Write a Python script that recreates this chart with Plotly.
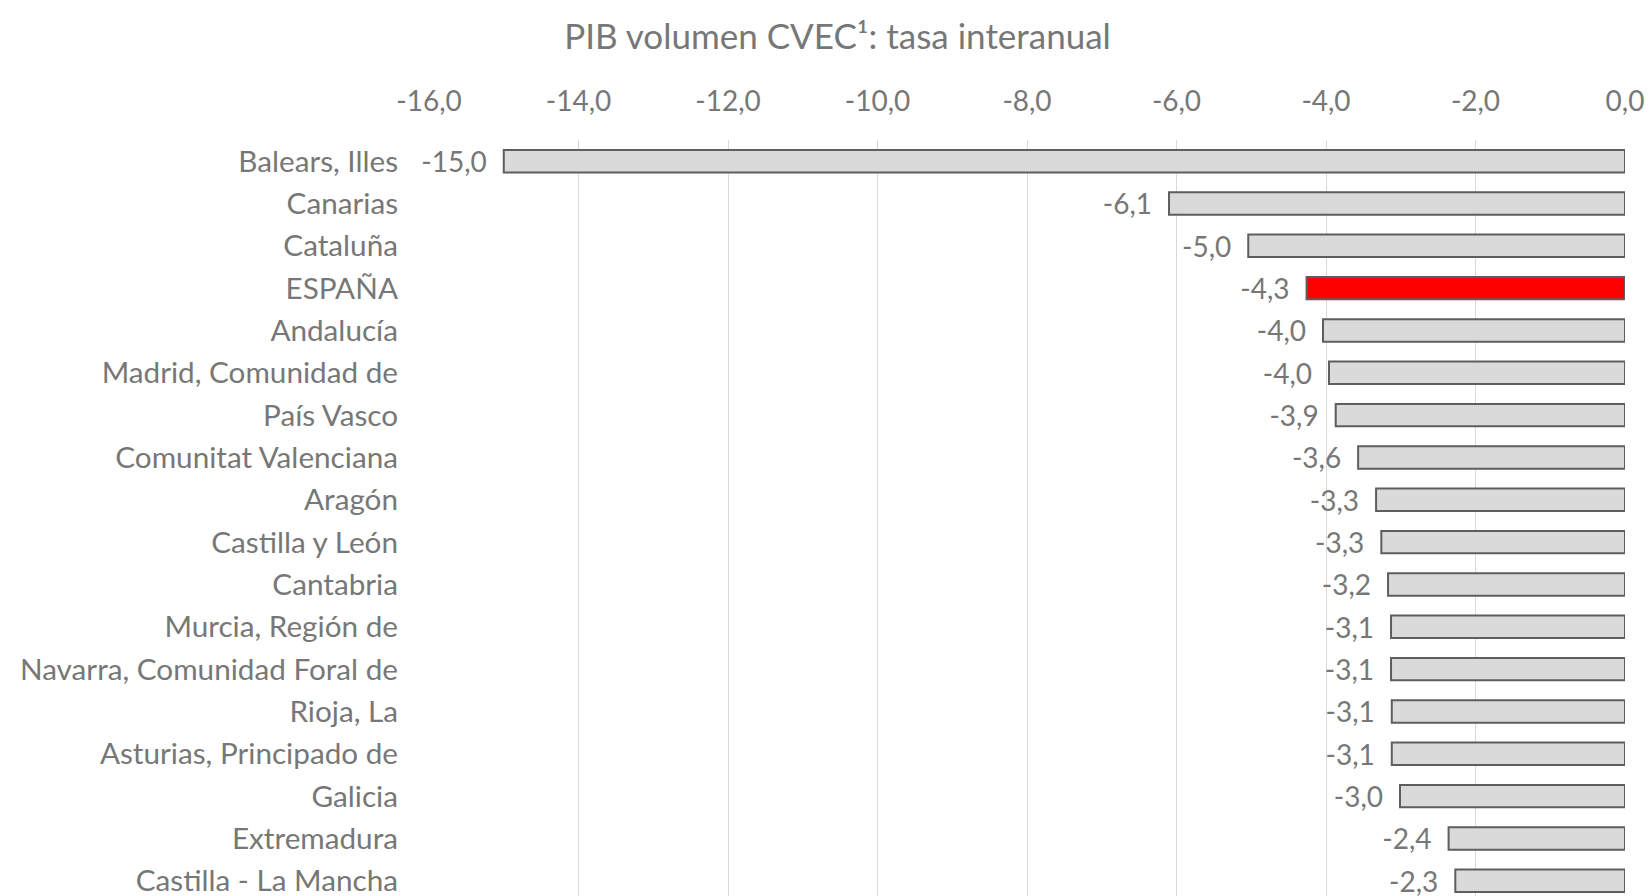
import plotly.graph_objects as go

regions = ["Balears, Illes", "Canarias", "Cataluña", "ESPAÑA", "Andalucía",
           "Madrid, Comunidad de", "País Vasco", "Comunitat Valenciana", "Aragón",
           "Castilla y León", "Cantabria", "Murcia, Región de",
           "Navarra, Comunidad Foral de", "Rioja, La", "Asturias, Principado de",
           "Galicia", "Extremadura", "Castilla - La Mancha"]
values = [-15.0, -6.10, -5.04, -4.26, -4.04, -3.96, -3.87, -3.57, -3.33, -3.26,
          -3.17, -3.13, -3.13, -3.12, -3.12, -3.01, -2.36, -2.27]
highlight = "ESPAÑA"

tick_vals = [-16, -14, -12, -10, -8, -6, -4, -2, 0]
tick_labels = ["-16,0", "-14,0", "-12,0", "-10,0", "-8,0", "-6,0", "-4,0", "-2,0", "0,0"]

labels = [f"{v:.1f}".replace(".", ",") for v in values]
colors = ["#ff0000" if r == highlight else "#dadada" for r in regions]

GRAY = "#777777"
FONT = "Lato"

fig = go.Figure(go.Bar(
    x=values, y=regions, orientation="h",
    marker=dict(color=colors, line=dict(color="#5e5e5e", width=2)),
    width=0.53,
    text=labels, texttemplate="%{text}\u2002", textposition="outside",
    cliponaxis=False, constraintext="none",
    textfont=dict(family=FONT, size=28, color=GRAY),
    hoverinfo="skip",
))

fig.update_layout(
    width=1652, height=896,
    paper_bgcolor="white", plot_bgcolor="white",
    margin=dict(l=429, r=27, t=140, b=0),
    showlegend=False,
    title=dict(text="PIB volumen CVEC¹: tasa interanual",
               x=0.507, xref="container", xanchor="center",
               y=1 - 37 / 896, yref="container", yanchor="middle",
               font=dict(family=FONT, size=35, color=GRAY)),
    xaxis=dict(range=[-16, 0], side="top", tickvals=tick_vals, ticktext=tick_labels,
               showgrid=True, gridcolor="#d9d9d9", gridwidth=1.3,
               zeroline=False, showline=False, ticks="",
               tickfont=dict(family=FONT, size=28, color=GRAY),
               ticklabelstandoff=22, fixedrange=True),
    yaxis=dict(type="category", categoryorder="array", categoryarray=regions,
               range=[17.36, -0.5], showgrid=False, zeroline=False, showline=False,
               ticks="", tickfont=dict(family=FONT, size=29.7, color=GRAY),
               ticklabelstandoff=30, fixedrange=True),
)

fig.write_html("out.html", config={"displayModeBar": False},
               post_script="document.body.style.margin='0';document.body.style.overflow='hidden';")
